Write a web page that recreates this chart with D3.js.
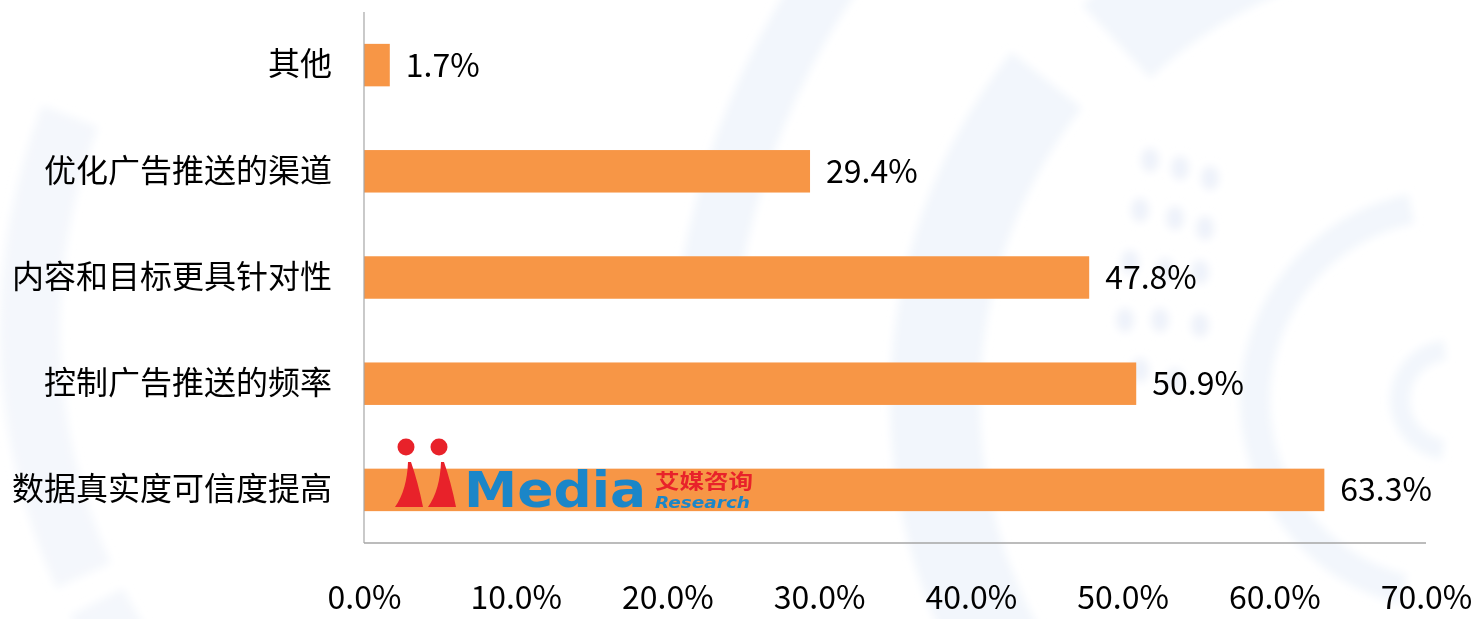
<!DOCTYPE html>
<html>
<head>
<meta charset="utf-8">
<script src="https://cdn.jsdelivr.net/npm/d3@7"></script>
<style>
  html, body { margin: 0; padding: 0; background: #fff; overflow: hidden; }
  svg { display: block; }
  text { font-family: "Noto Sans CJK SC", "Noto Sans", sans-serif; fill: #000; }
</style>
</head>
<body>
<svg id="chart"></svg>
<script>
const categories = ["其他", "优化广告推送的渠道", "内容和目标更具针对性", "控制广告推送的频率", "数据真实度可信度提高"];
const values = [1.7, 29.4, 47.8, 50.9, 63.3];
const ticks = [0, 10, 20, 30, 40, 50, 60, 70];

const width = 1473;
const height = 619;

const svg = d3.select("#chart")
  .attr("width", width)
  .attr("height", height);

const defs = svg.append("defs");
defs.append("filter")
  .attr("id", "soft")
  .attr("x", "-10%").attr("y", "-10%").attr("width", "120%").attr("height", "120%")
  .append("feGaussianBlur")
  .attr("stdDeviation", 4);

// --- faint background decoration ---
const bg = svg.append("g").attr("class", "bg").attr("filter", "url(#soft)");
const arc = d3.arc();
const cx = 1450, cy = 400;
[
  { r0: 470, r1: 560, a0: -2.2, a1: -0.9 },
  { r0: 440, r1: 540, a0: -0.75, a1: -0.35 },
  { r0: 180, r1: 210, a0: -2.9, a1: -0.2 },
  { r0: 40, r1: 60, a0: -3.0, a1: -0.1 },
  { r0: 720, r1: 780, a0: -1.4, a1: -0.7 }
].forEach(s => {
  bg.append("path")
    .attr("transform", `translate(${cx},${cy})`)
    .attr("d", arc({ innerRadius: s.r0, outerRadius: s.r1, startAngle: s.a0, endAngle: s.a1 }))
    .attr("fill", "#f2f6fc");
});
// left side soft bands
bg.append("path")
  .attr("transform", "translate(620,330)")
  .attr("d", arc({ innerRadius: 560, outerRadius: 620, startAngle: -2.0, endAngle: -1.2 }))
  .attr("fill", "#f4f7fc");
bg.append("path")
  .attr("transform", "translate(620,330)")
  .attr("d", arc({ innerRadius: 560, outerRadius: 620, startAngle: -2.3, endAngle: -2.05 }))
  .attr("fill", "#f4f7fc");

// dot cluster
const dots = bg.append("g").attr("fill", "#eef2fa");
[[1150,160],[1180,168],[1210,178],[1140,210],[1175,218],[1205,228],[1130,262],[1165,270],[1200,272],[1125,320],[1160,320],[1200,325],[1140,370],[1175,380]]
  .forEach(p => dots.append("ellipse").attr("cx", p[0]).attr("cy", p[1]).attr("rx", 9).attr("ry", 12));

// --- scales ---
const x = d3.scaleLinear()
  .domain([0, 70])
  .range([364, 1426]);

const y = d3.scaleBand()
  .domain(categories)
  .range([12, 543])
  .paddingInner(0.6)
  .paddingOuter(0.3);

const g = svg.append("g");

// --- bars ---
g.selectAll("rect.bar")
  .data(values)
  .enter().append("rect")
  .attr("class", "bar")
  .attr("x", x(0))
  .attr("y", (d, i) => y(categories[i]))
  .attr("width", d => x(d) - x(0))
  .attr("height", y.bandwidth())
  .attr("fill", "#f79646");

// --- value labels ---
g.selectAll("text.value")
  .data(values)
  .enter().append("text")
  .attr("class", "value")
  .attr("x", d => x(d) + 16)
  .attr("y", (d, i) => y(categories[i]) + y.bandwidth() / 2)
  .attr("dy", "0.36em")
  .style("font-size", "32px")
  .text(d => d.toFixed(1) + "%");

// --- axes ---
g.append("line")
  .attr("x1", x(0)).attr("x2", x(0))
  .attr("y1", 12).attr("y2", 543)
  .attr("stroke", "#a6a6a6")
  .attr("stroke-width", 1.2);

g.append("line")
  .attr("x1", x(0)).attr("x2", x(70))
  .attr("y1", 543).attr("y2", 543)
  .attr("stroke", "#a6a6a6")
  .attr("stroke-width", 1.5);

const xAxis = d3.axisBottom(x)
  .tickValues(ticks)
  .tickSize(0)
  .tickPadding(0)
  .tickFormat(d => d.toFixed(1) + "%");

// tick labels sit right at the bottom edge, keep descent inside the frame
const ax = g.append("g")
  .attr("transform", "translate(0,586)")
  .call(xAxis);
ax.select(".domain").remove();
ax.selectAll("text")
  .style("font-size", "32px")
  .style("font-family", "'Noto Sans CJK SC', sans-serif")
  .attr("fill", "#000");

const yAxis = d3.axisLeft(y).tickSize(0).tickPadding(0);
const ay = g.append("g")
  .attr("transform", "translate(332,0)")
  .call(yAxis);
ay.select(".domain").remove();
ay.selectAll("text")
  .style("font-size", "32px")
  .style("font-family", "'Noto Sans CJK SC', sans-serif")
  .attr("fill", "#000");

// --- watermark logo ---
const logo = svg.append("g").attr("class", "logo");
logo.append("circle").attr("cx", 406).attr("cy", 447).attr("r", 8.5).attr("fill", "#e8222a");
logo.append("circle").attr("cx", 439).attr("cy", 447).attr("r", 8.5).attr("fill", "#e8222a");
logo.append("path")
  .attr("d", "M395,507 Q407,490 408,462 L411,462 Q418,482 423,507 Z")
  .attr("fill", "#e8222a");
logo.append("path")
  .attr("d", "M428,507 Q440,490 441,462 L444,462 Q451,482 456,507 Z")
  .attr("fill", "#e8222a");
logo.append("text")
  .attr("x", 464).attr("y", 507)
  .attr("textLength", 182)
  .attr("lengthAdjust", "spacingAndGlyphs")
  .style("font-family", "'DejaVu Sans', sans-serif")
  .style("font-weight", "bold")
  .style("font-size", "50px")
  .style("fill", "#1b86c8")
  .text("Media");
logo.append("text")
  .attr("x", 655).attr("y", 489)
  .attr("textLength", 98)
  .attr("lengthAdjust", "spacingAndGlyphs")
  .style("font-weight", "bold")
  .style("font-size", "20px")
  .style("fill", "#e8222a")
  .text("艾媒咨询");
logo.append("text")
  .attr("x", 655).attr("y", 508)
  .attr("textLength", 95)
  .attr("lengthAdjust", "spacingAndGlyphs")
  .style("font-family", "'DejaVu Sans', sans-serif")
  .style("font-weight", "bold")
  .style("font-style", "italic")
  .style("font-size", "16px")
  .style("fill", "#1b86c8")
  .text("Research");
</script>
</body>
</html>
